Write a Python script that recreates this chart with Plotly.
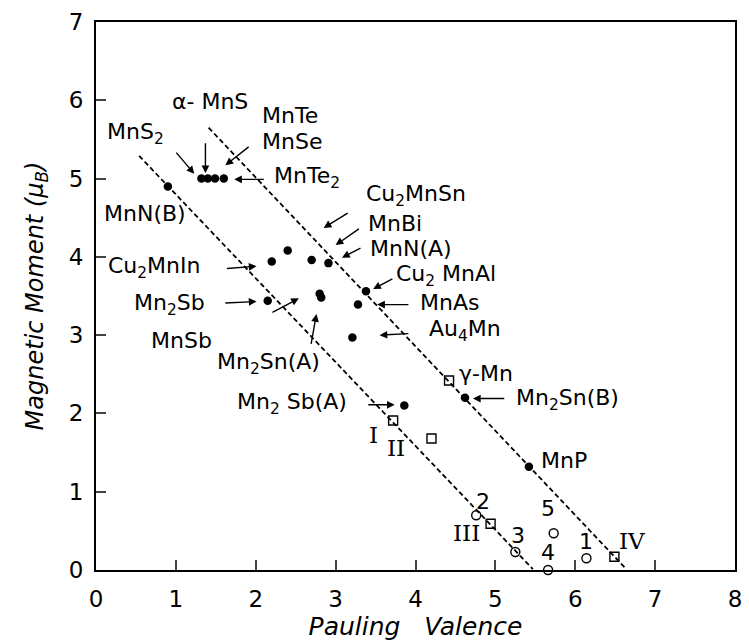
import plotly.graph_objects as go

# ---- data ----
filled_x = [0.90, 1.32, 1.40, 1.49, 1.60, 2.20, 2.40, 2.70, 2.91, 2.15, 2.80, 2.82, 3.38, 3.28, 3.21, 3.86, 4.62, 5.42]
filled_y = [4.90, 5.00, 5.00, 5.00, 5.00, 3.94, 4.08, 3.96, 3.92, 3.44, 3.53, 3.48, 3.56, 3.39, 2.97, 2.10, 2.20, 1.32]

square_x = [3.72, 4.20, 4.42, 4.94, 6.49]
square_y = [1.91, 1.68, 2.42, 0.59, 0.17]

circle_x = [4.76, 5.25, 5.66, 5.73, 6.14]
circle_y = [0.70, 0.23, 0.00, 0.47, 0.15]

line1_x = [0.54, 5.47]
line1_y = [5.29, 0.01]
line2_x = [1.41, 6.64]
line2_y = [5.65, 0.01]

# labels: text, x, y (left anchored)
label_text = ["α- MnS", "MnS<sub>2</sub>", "MnTe", "MnSe", "MnTe<sub>2</sub>", "MnN(B)",
              "Cu<sub>2</sub>MnSn", "MnBi", "MnN(A)", "Cu<sub>2</sub> MnAl", "MnAs", "Au<sub>4</sub>Mn",
              "Cu<sub>2</sub>MnIn", "Mn<sub>2</sub>Sb", "MnSb", "Mn<sub>2</sub>Sn(A)", "Mn<sub>2</sub> Sb(A)",
              "γ-Mn", "Mn<sub>2</sub>Sn(B)", "MnP"]
label_x = [0.94, 0.12, 2.07, 2.07, 2.22, 0.09, 3.37, 3.39, 3.42, 3.74, 4.04, 4.16,
           0.14, 0.46, 0.67, 1.50, 1.75, 4.53, 5.25, 5.56]
label_y = [5.98, 5.58, 5.81, 5.47, 5.01, 4.56, 4.79, 4.43, 4.11, 3.76, 3.42, 3.06,
           3.87, 3.39, 2.93, 2.64, 2.13, 2.51, 2.18, 1.40]

# roman numerals (serif), centered
roman_text = ["I", "II", "III", "IV"]
roman_x = [3.47, 3.76, 4.64, 6.71]
roman_y = [1.72, 1.56, 0.47, 0.37]

# small digit labels, centered
digit_text = ["2", "3", "4", "5", "1"]
digit_x = [4.85, 5.28, 5.66, 5.66, 6.14]
digit_y = [0.88, 0.44, 0.22, 0.78, 0.37]

# arrows: tail (ax, ay) -> head (hx, hy)
arrow_ax = [1.37, 0.99, 1.93, 2.12, 3.17, 3.31, 3.33, 3.73, 3.93, 3.93, 1.62, 1.60, 2.19, 2.69, 3.39, 5.13]
arrow_ay = [5.47, 5.35, 5.42, 4.99, 4.57, 4.37, 4.12, 3.73, 3.39, 3.02, 3.85, 3.41, 3.28, 2.87, 2.11, 2.19]
arrow_hx = [1.37, 1.23, 1.62, 1.73, 2.85, 3.00, 3.08, 3.47, 3.52, 3.55, 2.01, 2.01, 2.54, 2.76, 3.74, 4.72]
arrow_hy = [5.07, 5.06, 5.17, 4.99, 4.37, 4.15, 3.99, 3.59, 3.39, 3.00, 3.88, 3.43, 3.47, 3.27, 2.11, 2.19]

x_ticks = [0, 1, 2, 3, 4, 5, 6, 7, 8]
y_ticks = [0, 1, 2, 3, 4, 5, 6, 7]

FONT = "DejaVu Sans"

fig = go.Figure()
dash = "5px,3px"
fig.add_trace(go.Scatter(x=line1_x, y=line1_y, mode="lines",
                         line=dict(color="black", width=1.8, dash=dash), hoverinfo="skip"))
fig.add_trace(go.Scatter(x=line2_x, y=line2_y, mode="lines",
                         line=dict(color="black", width=1.8, dash=dash), hoverinfo="skip"))
fig.add_trace(go.Scatter(x=filled_x, y=filled_y, mode="markers",
                         marker=dict(symbol="circle", size=8.5, color="black")))
fig.add_trace(go.Scatter(x=square_x, y=square_y, mode="markers",
                         marker=dict(symbol="square-open", size=9, color="black", line=dict(width=1.4))))
fig.add_trace(go.Scatter(x=circle_x, y=circle_y, mode="markers",
                         marker=dict(symbol="circle-open", size=9, color="black", line=dict(width=1.4)),
                         cliponaxis=False))

annotations = []
for t, x, y in zip(label_text, label_x, label_y):
    annotations.append(dict(x=x, y=y, xref="x", yref="y", text=t, showarrow=False,
                            xanchor="left", yanchor="middle", borderpad=0,
                            font=dict(family=FONT, size=22, color="black")))
for t, x, y in zip(roman_text, roman_x, roman_y):
    annotations.append(dict(x=x, y=y, xref="x", yref="y", text=t, showarrow=False,
                            xanchor="center", yanchor="middle",
                            font=dict(family="DejaVu Serif", size=23, color="black")))
for t, x, y in zip(digit_text, digit_x, digit_y):
    annotations.append(dict(x=x, y=y, xref="x", yref="y", text=t, showarrow=False,
                            xanchor="center", yanchor="middle",
                            font=dict(family=FONT, size=22, color="black")))
for ax, ay, hx, hy in zip(arrow_ax, arrow_ay, arrow_hx, arrow_hy):
    annotations.append(dict(x=hx, y=hy, ax=ax, ay=ay, xref="x", yref="y", axref="x", ayref="y",
                            text="", showarrow=True, arrowhead=2, arrowsize=1.1,
                            arrowwidth=1.4, arrowcolor="black", standoff=0, startstandoff=0))

fig.update_layout(
    width=749, height=644,
    margin=dict(l=96, r=7, t=22, b=74),
    paper_bgcolor="white", plot_bgcolor="white",
    showlegend=False,
    annotations=annotations,
    font=dict(family=FONT, color="black"),
)
fig.update_xaxes(range=[0, 8], tickvals=x_ticks, ticks="inside", ticklen=10, tickwidth=1.5,
                 showline=True, linecolor="black", linewidth=2, mirror=True, showgrid=False,
                 zeroline=False, tickfont=dict(family=FONT, size=23), ticklabelstandoff=7,
                 title=dict(text="<i>Pauling   Valence</i>", font=dict(family=FONT, size=25), standoff=6))
fig.update_yaxes(range=[0, 7], tickvals=y_ticks, ticks="inside", ticklen=10, tickwidth=1.5,
                 showline=True, linecolor="black", linewidth=2, mirror=True, showgrid=False,
                 zeroline=False, tickfont=dict(family=FONT, size=23), ticklabelstandoff=6,
                 title=dict(text="<i>Magnetic Moment (μ<sub>B</sub>)</i>", font=dict(family=FONT, size=24), standoff=18))

fig.write_html("out.html")
